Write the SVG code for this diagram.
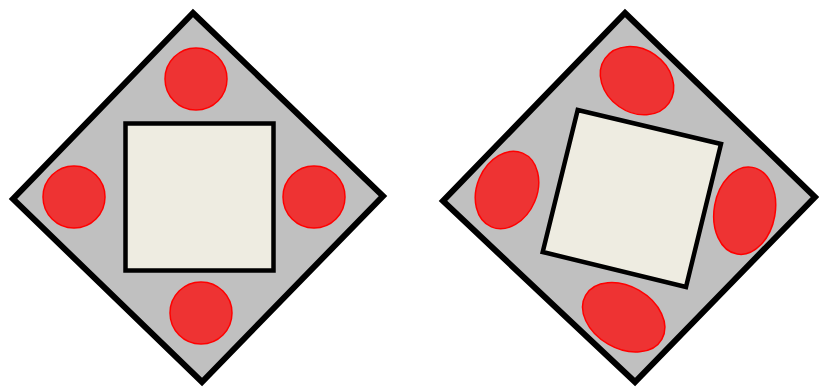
<svg xmlns="http://www.w3.org/2000/svg" width="819" height="388" viewBox="0 0 819 388">
<style>
.base{fill:#c0c0c0;stroke:#000;stroke-width:6;stroke-linejoin:miter}
.plate{fill:#eeece1;stroke:#000;stroke-width:4.5}
.pad{fill:#ee3333;stroke:#ff0000;stroke-width:1.5}
</style>
<rect width="819" height="388" fill="#fff"/>
<g id="left">
<polygon class="base" points="193,13 383,196 202,382 13,199"/>
<rect class="plate" x="125.5" y="123.5" width="148" height="147"/>
<circle class="pad" cx="196" cy="79" r="31"/>
<circle class="pad" cx="74" cy="197" r="31"/>
<circle class="pad" cx="314" cy="197" r="31"/>
<circle class="pad" cx="201" cy="313" r="31"/>
</g>
<g id="right">
<polygon class="base" points="625,13 815,197 635,382 443,201"/>
<polygon class="plate" points="577.7,110 721,144 686,287 542.7,252"/>
<ellipse class="pad" cx="637" cy="80.7" rx="39" ry="31.5" transform="rotate(35 637 80.7)"/>
<ellipse class="pad" cx="507" cy="190" rx="40" ry="30" transform="rotate(-67 507 190)"/>
<ellipse class="pad" cx="744.7" cy="210.7" rx="44" ry="30.5" transform="rotate(-80 744.7 210.7)"/>
<ellipse class="pad" cx="623.7" cy="317.3" rx="44" ry="31" transform="rotate(30 623.7 317.3)"/>
</g>
<g id="connectors"/>
</svg>
